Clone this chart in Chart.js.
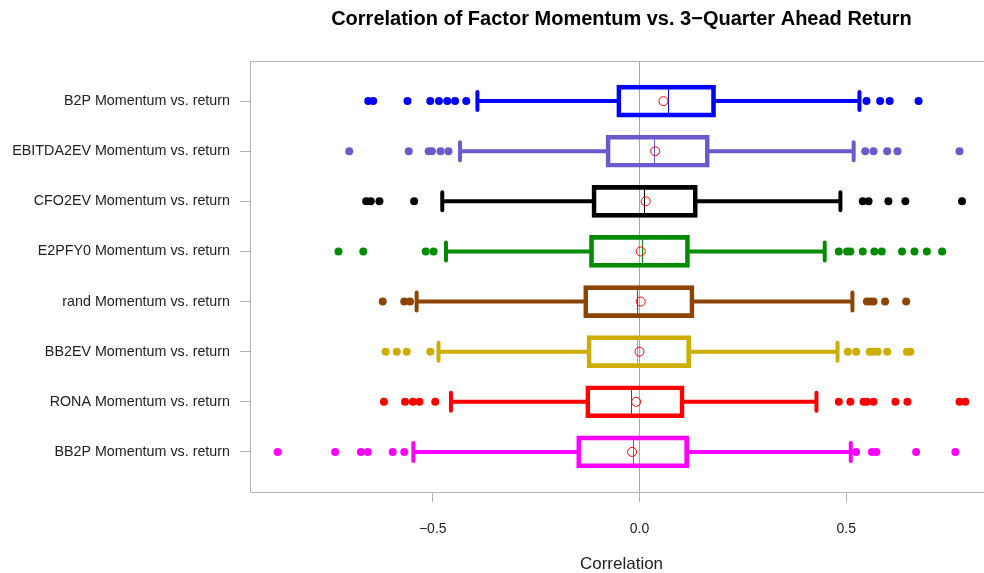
<!DOCTYPE html>
<html>
<head>
<meta charset="utf-8">
<script src="https://cdn.jsdelivr.net/npm/chart.js@4"></script>
<style>
  html, body { margin: 0; padding: 0; background: #fff; overflow: hidden; }
  #wrap { width: 1000px; height: 573px; }
</style>
</head>
<body>
<div id="wrap"><canvas id="chartCanvas" width="1000" height="573"></canvas></div>
<script>
// Categories, top to bottom
const categories = [
    'B2P Momentum vs. return',
    'EBITDA2EV Momentum vs. return',
    'CFO2EV Momentum vs. return',
    'E2PFY0 Momentum vs. return',
    'rand Momentum vs. return',
    'BB2EV Momentum vs. return',
    'RONA Momentum vs. return',
    'BB2P Momentum vs. return'
];

// Box statistics (correlations)
const lowerWhiskers = [-0.392, -0.434, -0.477, -0.468, -0.539, -0.486, -0.456, -0.547];
const q1Values      = [-0.055, -0.081, -0.115, -0.121, -0.135, -0.127, -0.130, -0.152];
const medianValues  = [0.069, 0.034, 0.010, 0.007, -0.005, -0.005, -0.021, -0.016];
const q3Values      = [0.184, 0.169, 0.140, 0.121, 0.132, 0.124, 0.108, 0.119];
const upperWhiskers = [0.532, 0.518, 0.486, 0.448, 0.515, 0.479, 0.428, 0.511];
const meanValues    = [0.058, 0.038, 0.015, 0.003, 0.003, 0.000, -0.008, -0.018];

// Outliers per category
const outlierValues = [
    [-0.656, -0.644, -0.561, -0.506, -0.485, -0.465, -0.446, -0.419, 0.549, 0.582, 0.605, 0.675],
    [-0.702, -0.558, -0.510, -0.502, -0.481, -0.462, 0.546, 0.566, 0.599, 0.624, 0.774],
    [-0.661, -0.650, -0.629, -0.545, 0.540, 0.554, 0.602, 0.643, 0.780],
    [-0.728, -0.668, -0.517, -0.498, 0.482, 0.502, 0.510, 0.540, 0.568, 0.586, 0.635, 0.665, 0.695, 0.732],
    [-0.621, -0.569, -0.555, 0.550, 0.558, 0.566, 0.594, 0.645],
    [-0.614, -0.587, -0.563, -0.506, 0.504, 0.524, 0.557, 0.565, 0.576, 0.599, 0.647, 0.655],
    [-0.618, -0.567, -0.548, -0.532, -0.494, 0.482, 0.510, 0.542, 0.550, 0.566, 0.619, 0.648, 0.774, 0.788],
    [-0.875, -0.736, -0.674, -0.657, -0.597, -0.569, 0.524, 0.562, 0.573, 0.669, 0.764]
];

const xTickValues = [-0.5, 0, 0.5];

const boxColors = ['#0000ff', '#6a5acd', '#000000', '#008b00', '#8b4500', '#cdad00', '#ff0000', '#ff00ff'];

const fontFamily = "'Liberation Sans', Arial, sans-serif";

// Whiskers, staples, medians, frame and zero line
const boxplotLines = {
    id: 'boxplotLines',
    beforeDatasetsDraw(chart) {
        const { ctx, chartArea, scales: { x, y } } = chart;
        ctx.save();

        ctx.strokeStyle = '#b3b3b3';
        ctx.lineWidth = 1;
        ctx.strokeRect(chartArea.left + 0.5, chartArea.top + 0.5,
            chartArea.right - chartArea.left, chartArea.bottom - chartArea.top);

        const zx = Math.round(x.getPixelForValue(0)) + 0.5;
        ctx.strokeStyle = '#a6a6a6';
        ctx.beginPath();
        ctx.moveTo(zx, chartArea.top);
        ctx.lineTo(zx, chartArea.bottom);
        ctx.stroke();

        categories.forEach((cat, i) => {
            const yc = y.getPixelForValue(i + 1);
            const lo = x.getPixelForValue(lowerWhiskers[i]);
            const hi = x.getPixelForValue(upperWhiskers[i]);
            ctx.strokeStyle = boxColors[i];
            ctx.lineWidth = 4;
            ctx.lineCap = 'round';
            ctx.beginPath();
            ctx.moveTo(x.getPixelForValue(q1Values[i]), yc);
            ctx.lineTo(lo, yc);
            ctx.moveTo(x.getPixelForValue(q3Values[i]), yc);
            ctx.lineTo(hi, yc);
            ctx.moveTo(lo, yc - 9);
            ctx.lineTo(lo, yc + 9);
            ctx.moveTo(hi, yc - 9);
            ctx.lineTo(hi, yc + 9);
            ctx.stroke();

            const mx = Math.round(x.getPixelForValue(medianValues[i])) + 0.5;
            ctx.lineWidth = 1;
            ctx.lineCap = 'butt';
            ctx.beginPath();
            ctx.moveTo(mx, yc - 14);
            ctx.lineTo(mx, yc + 14);
            ctx.stroke();
        });
        ctx.restore();
    }
};

const boxData = categories.map((c, i) => ({ y: i + 1, x: [q1Values[i], q3Values[i]] }));

const outlierSets = categories.map((c, i) => ({
    type: 'scatter',
    label: c + ' outliers',
    data: outlierValues[i].map(v => ({ x: v, y: i + 1 })),
    backgroundColor: boxColors[i],
    borderWidth: 0,
    pointRadius: 4,
    pointHoverRadius: 4
}));

const ctx = document.getElementById('chartCanvas').getContext('2d');
new Chart(ctx, {
    type: 'bar',
    data: {
        datasets: [
            {
                label: 'IQR',
                indexAxis: 'y',
                data: boxData,
                backgroundColor: 'rgba(0,0,0,0)',
                borderColor: boxColors,
                borderWidth: 4,
                borderSkipped: false,
                barThickness: 32
            },
            ...outlierSets,
            {
                type: 'scatter',
                label: 'Mean',
                data: meanValues.map((v, i) => ({ x: v, y: i + 1 })),
                backgroundColor: 'rgba(0,0,0,0)',
                borderColor: '#ff0000',
                borderWidth: 1,
                pointRadius: 4.5,
                pointHoverRadius: 4.5
            }
        ]
    },
    options: {
        indexAxis: 'y',
        responsive: false,
        devicePixelRatio: 1,
        animation: false,
        layout: { padding: { left: 0, right: 7, top: 1, bottom: 0 } },
        plugins: {
            legend: { display: false },
            tooltip: { enabled: false },
            title: {
                display: true,
                fullSize: false,
                text: 'Correlation of Factor Momentum vs. 3\u2212Quarter Ahead Return',
                color: '#000',
                font: { family: fontFamily, size: 20, weight: 'bold', lineHeight: 1.2 },
                padding: { top: 6, bottom: 30 }
            }
        },
        scales: {
            x: {
                type: 'linear',
                position: 'bottom',
                offset: false,
                min: -0.942,
                max: 0.855,
                afterBuildTicks: (axis) => { axis.ticks = xTickValues.map(v => ({ value: v })); },
                afterFit: (axis) => { axis.height = 81; },
                ticks: {
                    color: '#222',
                    padding: 19,
                    font: { family: fontFamily, size: 14 },
                    callback: (v) => (v < 0 ? '\u2212' : '') + Math.abs(v).toFixed(1)
                },
                grid: { offset: false, drawOnChartArea: false, tickLength: 10, color: '#b3b3b3' },
                border: { display: false },
                title: {
                    display: true,
                    text: 'Correlation',
                    color: '#222',
                    font: { family: fontFamily, size: 17 },
                    padding: { top: 0, bottom: -2 }
                }
            },
            y: {
                type: 'linear',
                position: 'left',
                offset: false,
                min: 0.2,
                max: 8.8,
                reverse: true,
                afterBuildTicks: (axis) => { axis.ticks = categories.map((c, i) => ({ value: i + 1 })); },
                afterFit: (axis) => { axis.width = 250; },
                ticks: {
                    color: '#222',
                    padding: 10,
                    font: { family: fontFamily, size: 14.3 },
                    callback: (v) => categories[v - 1]
                },
                grid: { offset: false, drawOnChartArea: false, tickLength: 10, color: '#b3b3b3' },
                border: { display: false }
            }
        }
    },
    plugins: [boxplotLines]
});
</script>
</body>
</html>
